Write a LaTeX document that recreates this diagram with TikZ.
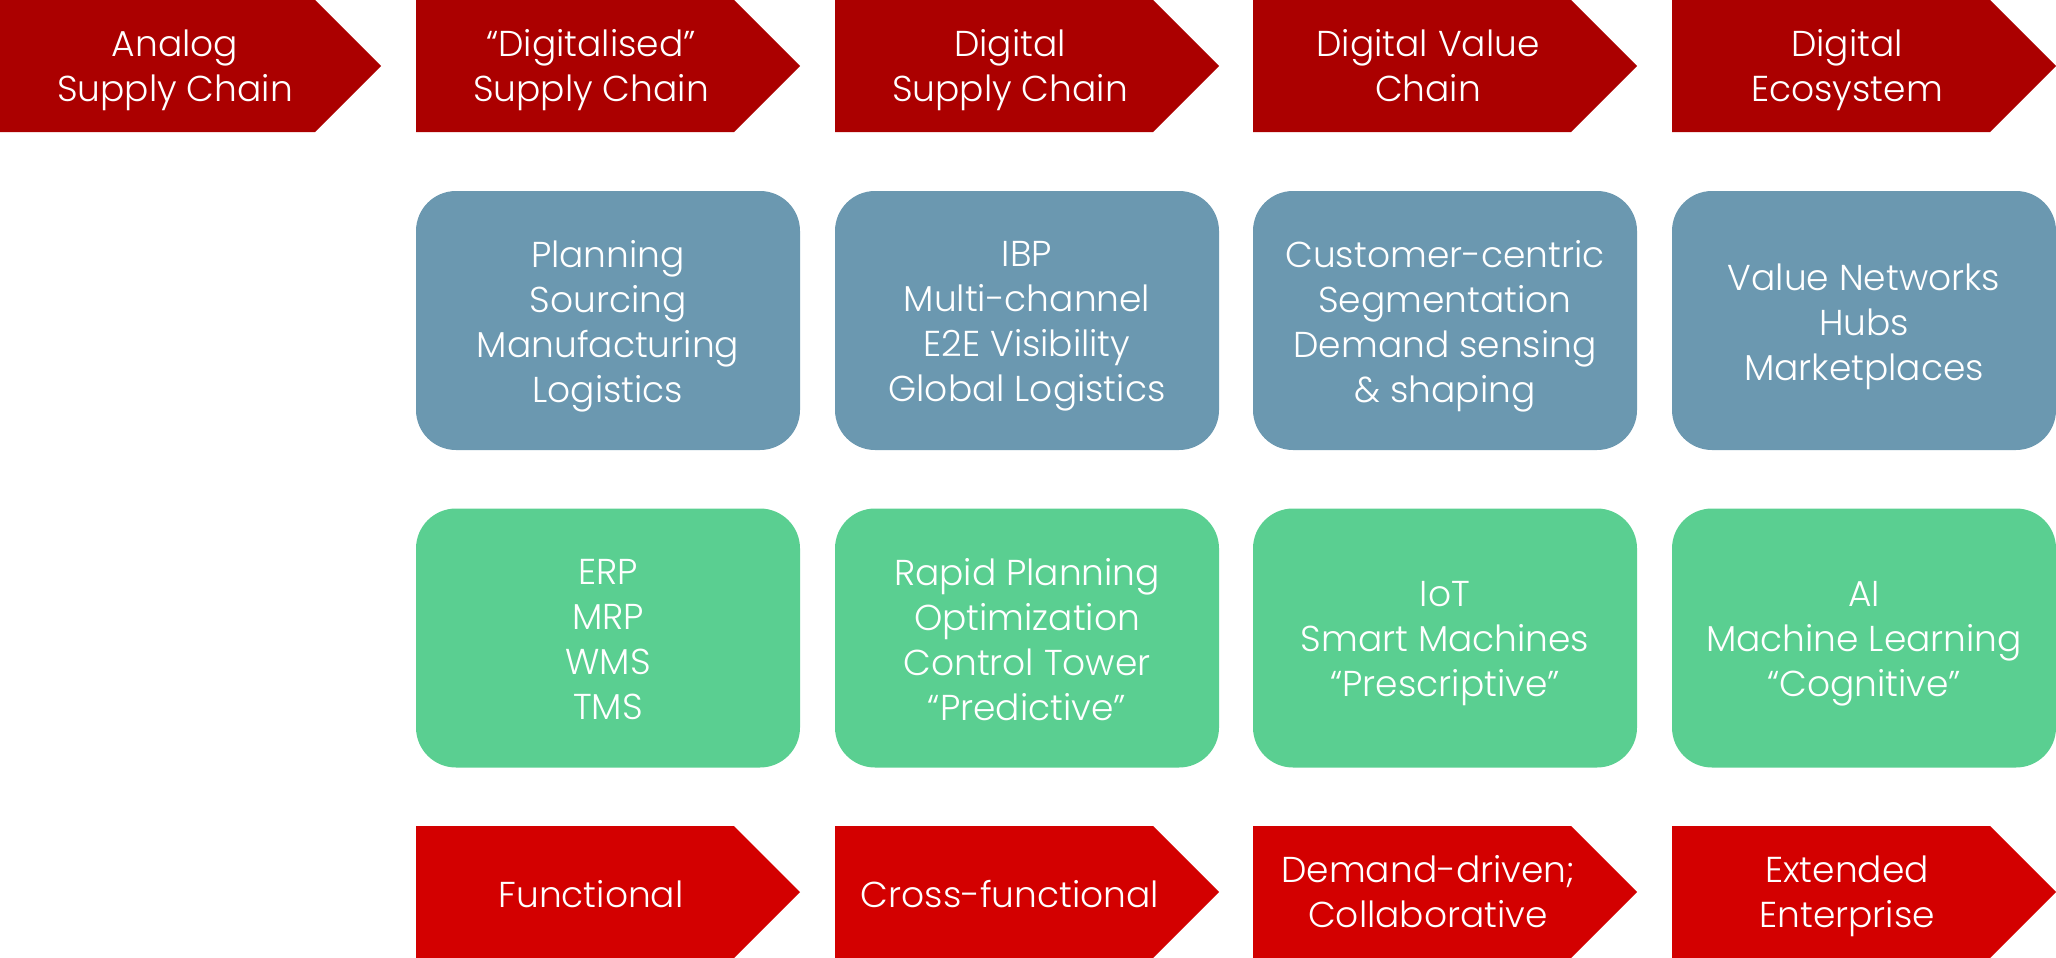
\documentclass[tikz,border=0pt]{standalone}
\usepackage{fontspec}
\setmainfont{Poppins}[UprightFont=* Light]
\definecolor{stagered}{HTML}{AB0000}
\definecolor{modered}{HTML}{D30000}
\definecolor{capblue}{HTML}{6B98B0}
\definecolor{techgreen}{HTML}{5ACF91}
% chevron: name, left x, top y, width, colour, text
\newcommand\chevronbox[6]{%
  \fill[#5] (#2,#3) -- ++(#4-66,0) -- ++(66,66) -- ++(-66,66) -- ++(-#4+66,0) -- cycle;
  \node[txt] (#1) at (#2+175,#3+66) {#6};}
% rounded card: name, centre x, centre y, colour, text
\newcommand\cardbox[5]{%
  \fill[#4, rounded corners=40pt] (#2-192,#3-129.5) rectangle (#2+192,#3+129.5);
  \node[txt, yshift=-2pt] (#1) at (#2,#3) {#5};}
\begin{document}
\begin{tikzpicture}[x=1pt,y=-1pt,
  txt/.style={text=white, align=center, inner sep=0pt, yshift=-6pt,
    font=\fontsize{36}{45}\selectfont,
    execute at begin node=\strut, execute at end node=\strut}]
\useasboundingbox (0,0) rectangle (2056,958);
% stages along the top
\chevronbox{s1}{0}{0}{381}{stagered}{Analog\\Supply Chain}
\chevronbox{s2}{416}{0}{384}{stagered}{“Digitalised”\\Supply Chain}
\chevronbox{s3}{835}{0}{384}{stagered}{Digital\\Supply Chain}
\chevronbox{s4}{1253}{0}{384}{stagered}{Digital Value\\Chain}
\chevronbox{s5}{1672}{0}{384}{stagered}{Digital\\Ecosystem}
% capabilities
\cardbox{c2}{608}{320.5}{capblue}{Planning\\Sourcing\\Manufacturing\\Logistics}
\cardbox{c3}{1027}{320.5}{capblue}{IBP\\Multi-channel\\E2E Visibility\\Global Logistics}
\cardbox{c4}{1445}{320.5}{capblue}{Customer-centric\\Segmentation\\Demand sensing\\\& shaping}
\cardbox{c5}{1864}{320.5}{capblue}{Value Networks\\Hubs\\Marketplaces}
% technologies
\cardbox{t2}{608}{638}{techgreen}{ERP\\MRP\\WMS\\TMS}
\cardbox{t3}{1027}{638}{techgreen}{Rapid Planning\\Optimization\\Control Tower\\“Predictive”}
\cardbox{t4}{1445}{638}{techgreen}{IoT\\Smart Machines\\“Prescriptive”}
\cardbox{t5}{1864}{638}{techgreen}{AI\\Machine Learning\\“Cognitive”}
% operating modes along the bottom
\chevronbox{m2}{416}{826}{384}{modered}{Functional}
\chevronbox{m3}{835}{826}{384}{modered}{Cross-functional}
\chevronbox{m4}{1253}{826}{384}{modered}{Demand-driven;\\Collaborative}
\chevronbox{m5}{1672}{826}{384}{modered}{Extended\\Enterprise}
\end{tikzpicture}
\end{document}
